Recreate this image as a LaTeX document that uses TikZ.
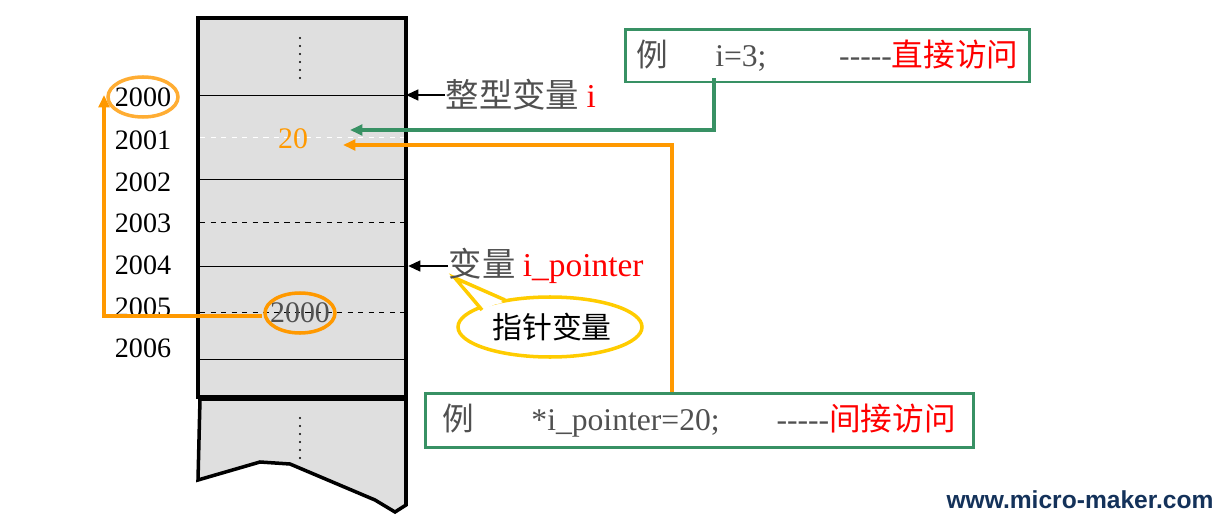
\documentclass[tikz,border=0pt]{standalone}
\usepackage{fontspec}
\setmainfont{Liberation Serif}
\newfontfamily\cjk{Noto Sans CJK SC}
\newfontfamily\webfont{Liberation Sans}
\definecolor{boxgreen}{RGB}{56,145,100}
\definecolor{ptrorange}{RGB}{255,153,0}
\definecolor{calloutyellow}{RGB}{255,204,0}
\definecolor{txtgray}{RGB}{80,80,80}
\definecolor{webblue}{RGB}{20,50,90}
\usetikzlibrary{arrows.meta}
\newcommand{\dashes}{{-}{-}{-}{-}{-}}

\begin{document}
\begin{tikzpicture}[x=0.02cm, y=-0.02cm, thick,
    addr/.style = {font=\fontsize{16}{16}\selectfont},
    cell/.style = {thin},
    gap/.style = {thin, dashed},
    greenbox/.style = {draw=boxgreen, line width=1.5pt, minimum height=1cm, anchor=north west, inner sep=6pt, align=left},
    ptr/.style = {-{Triangle[length=7pt,width=6pt]}, line width=1.5pt}]
    \useasboundingbox (0,0) rectangle (1223,520);
    % memory column
    \filldraw[fill=gray!25, line width=2pt] (198,18) rectangle (406,397);
    \filldraw[fill=gray!25, line width=2pt] (200,399) -- (406,399) -- (406,505) -- (395,512)
        -- (375,500) -- (290,464) -- (260,462) -- (198,480) -- cycle;
    \foreach \y in {95,179,266,359} \draw[cell] (200,\y) -- (408,\y);
    \foreach \y in {222,312} \draw[gap] (200,\y) -- (404,\y);
    \draw[thin, dashed, white] (200,137) -- (404,137);
    \foreach \y in {38,46,...,78} \fill (300,\y) circle (1.2);
    \foreach \y in {418,426,...,458} \fill (300,\y) circle (1.2);
    % addresses
    \foreach \a/\y in {2000/97,2001/140,2002/182,2003/223,2004/265,2005/307,2006/348}
        \node[addr] (a\a) at (143,\y) {\a};
    \node[font=\fontsize{17}{17}\selectfont, text=ptrorange] (val) at (293,139) {20};
    \node[font=\fontsize{17}{17}\selectfont, text=txtgray] (ptrval) at (300,313) {2000};
    \draw[ptrorange!80, line width=2pt] (a2000) ellipse (35 and 20);
    \draw[ptrorange, line width=2pt] (ptrval) ellipse (35 and 20);
    % callout
    \filldraw[draw=calloutyellow, fill=white, line width=2pt] (550,327) ellipse (92 and 30);
    \filldraw[draw=calloutyellow, fill=white, line width=2pt] (482,310) -- (455,278) -- (505,300);
    \fill[white] (484,306) -- (462,284) -- (503,303) -- cycle;
    \node[font=\cjk\fontsize{17}{17}\selectfont] (callout) at (552,327) {指针变量};
    % variable labels
    \node[anchor=west, inner sep=0pt, font=\fontsize{19}{19}\selectfont] (vi) at (445,95)
        {\cjk\color{txtgray}整型变量 \rmfamily\color{red}i};
    \node[anchor=west, inner sep=0pt, font=\fontsize{19}{19}\selectfont] (vp) at (448,266)
        {\cjk\color{txtgray}变量 \rmfamily\color{red}i\_pointer};
    \draw[ptr] (vi.west) -- (406,95);
    \draw[ptr] (vp.west) -- (408,266);
    % examples
    \node[greenbox, minimum width=404*0.02cm, font=\fontsize{18}{18}\selectfont] (ex1) at (624,28)
        {\color{txtgray}{\cjk 例}\quad\ \ i=3;\hspace{2.3em}\dashes\color{red}\cjk 直接访问};
    \node[greenbox, minimum width=548*0.02cm, font=\fontsize{18}{18}\selectfont] (ex2) at (424,392)
        {\color{txtgray}{\cjk 例}\hspace{1.8em}*i\_pointer=20;\hspace{1.8em}\dashes\color{red}\cjk 间接访问};
    \coordinate (g1) at (714,78);
    \coordinate (o1) at (672,392);
    \draw[ptr, boxgreen, line width=2pt] (g1) -- (714,130) -- (350,130);
    \draw[ptr, ptrorange, line width=2pt] (o1) -- (672,145) -- (343,145);
    \draw[ptr, ptrorange, line width=2pt] (ptrval.west) ++(-2,3) -- (104,316) -- (104,95);
    \node[font=\webfont\bfseries\fontsize{14}{14}\selectfont, text=webblue] (web) at (1080,500) {www.micro-maker.com};
\end{tikzpicture}
\end{document}
